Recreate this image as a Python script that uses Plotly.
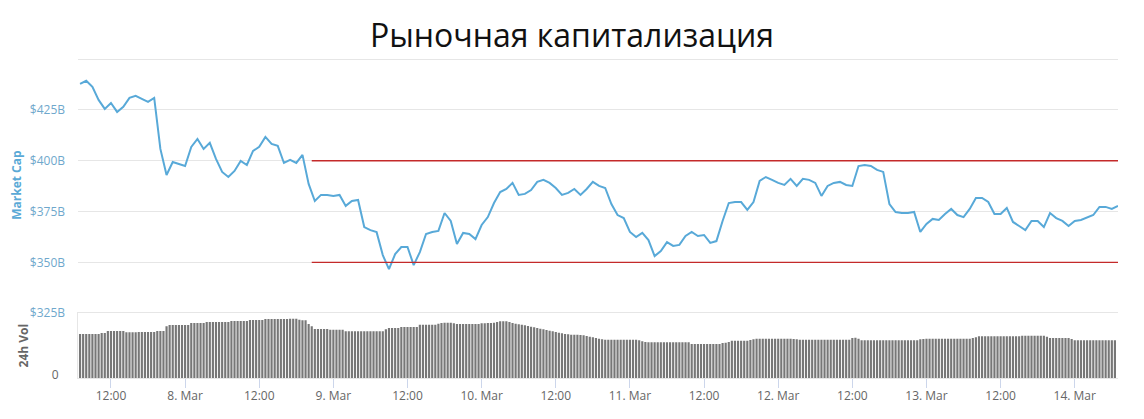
import plotly.graph_objects as go
import pandas as pd

# Рыночная капитализация, $B, почасовые значения с 7 Mar 07:00 по 14 Mar 07:00
market_cap = [
    437.8, 439.3, 436.3, 429.9, 425.5, 428.4, 424.0, 426.5, 430.9, 431.9, 430.4, 428.9,
    430.9, 405.8, 393.0, 399.4, 398.4, 397.4, 406.8, 410.7, 405.8, 408.8, 400.9, 394.5,
    392.0, 395.0, 399.9, 397.9, 404.8, 406.8, 411.7, 408.3, 407.3, 398.9, 400.4, 398.9,
    402.9, 388.6, 380.2, 383.2, 383.2, 382.7, 383.2, 377.8, 380.2, 380.7, 367.4, 365.9,
    364.9, 353.6, 346.7, 354.1, 357.6, 357.6, 348.7, 355.1, 364.0, 365.0, 365.5, 374.3,
    370.4, 359.1, 364.5, 364.0, 361.5, 368.4, 372.3, 379.2, 384.6, 386.1, 389.1, 383.2,
    383.7, 385.6, 389.6, 390.6, 389.1, 386.6, 383.2, 384.2, 386.1, 383.2, 386.1, 389.6,
    387.6, 386.6, 378.7, 373.3, 371.8, 365.0, 362.5, 364.5, 361.0, 353.1, 355.6, 360.0,
    358.1, 358.6, 363.0, 365.0, 363.0, 363.5, 359.6, 360.5, 370.4, 379.2, 379.7, 379.7,
    375.8, 379.7, 390.1, 392.0, 390.6, 389.1, 388.1, 391.1, 387.6, 391.1, 390.6, 389.1,
    382.7, 387.6, 389.1, 389.6, 388.1, 387.6, 397.4, 397.9, 397.4, 395.5, 394.5, 378.7,
    374.8, 374.3, 374.3, 374.8, 365.0, 368.9, 371.4, 370.9, 373.8, 376.3, 373.3, 372.3,
    376.3, 381.7, 381.7, 379.7, 373.8, 373.8, 376.8, 369.9, 367.9, 365.9, 370.4, 370.4,
    367.4, 374.3, 371.8, 370.4, 367.9, 370.4, 370.9, 372.3, 373.3, 377.3, 377.3, 376.3,
    377.8,
]

# Объём за 24ч, $B, каждые 30 минут
volume_24h = [
    13.2, 13.2, 13.2, 13.2, 13.2, 13.2, 13.2, 13.5, 13.5, 14.1, 14.1, 14.1,
    14.1, 14.1, 14.1, 13.7, 13.7, 13.7, 13.7, 13.8, 13.8, 13.8, 13.8, 13.8,
    13.8, 14.1, 14.1, 14.1, 15.5, 15.9, 15.9, 15.9, 15.9, 15.9, 15.9, 15.9,
    16.5, 16.5, 16.5, 16.5, 16.5, 16.8, 16.8, 16.8, 16.8, 16.8, 16.8, 16.8,
    16.8, 17.1, 17.1, 17.1, 17.1, 17.1, 17.1, 17.4, 17.4, 17.4, 17.4, 17.4,
    17.7, 17.7, 17.7, 17.7, 17.7, 17.7, 17.7, 17.7, 17.8, 17.8, 17.8, 17.5,
    17.3, 17.3, 16.2, 15.5, 14.7, 14.7, 14.7, 14.7, 14.7, 14.5, 14.5, 14.5,
    14.5, 14.5, 14.0, 14.0, 14.0, 14.0, 14.0, 14.0, 14.0, 14.0, 14.0, 14.0,
    14.0, 14.0, 14.0, 14.6, 15.0, 15.0, 15.0, 15.0, 15.3, 15.3, 15.3, 15.3,
    15.3, 15.3, 16.0, 16.0, 16.0, 16.0, 16.0, 16.0, 16.3, 16.5, 16.6, 16.6,
    16.6, 16.4, 16.2, 16.2, 16.2, 16.2, 16.2, 16.2, 16.2, 16.2, 16.4, 16.4,
    16.5, 16.5, 16.6, 16.8, 17.0, 17.0, 17.0, 16.8, 16.5, 16.3, 16.1, 16.0,
    15.8, 15.6, 15.4, 15.2, 15.0, 14.8, 14.6, 14.4, 14.2, 14.0, 13.8, 13.6,
    13.4, 13.2, 13.1, 13.0, 13.0, 13.0, 12.9, 12.8, 12.6, 12.4, 12.2, 12.0,
    11.8, 11.6, 11.5, 11.5, 11.5, 11.5, 11.5, 11.5, 11.5, 11.5, 11.5, 11.5,
    11.5, 11.3, 11.0, 10.8, 10.7, 10.7, 10.7, 10.7, 10.7, 10.7, 10.7, 10.7,
    10.7, 10.7, 10.7, 10.7, 10.7, 10.7, 10.2, 10.2, 10.2, 10.2, 10.2, 10.2,
    10.2, 10.2, 10.2, 10.2, 10.5, 10.6, 10.8, 11.2, 11.2, 11.2, 11.2, 11.2,
    11.2, 11.4, 11.6, 11.8, 11.8, 11.8, 11.8, 11.8, 11.8, 11.8, 11.8, 11.8,
    11.8, 11.8, 11.8, 11.7, 11.6, 11.5, 11.5, 11.5, 11.5, 11.5, 11.5, 11.5,
    11.5, 11.5, 11.5, 11.5, 11.5, 11.5, 11.5, 11.5, 11.5, 11.5, 12.0, 12.1,
    11.8, 11.3, 11.3, 11.3, 11.3, 11.3, 11.3, 11.3, 11.3, 11.3, 11.3, 11.3,
    11.3, 11.3, 11.3, 11.3, 11.3, 11.3, 11.3, 11.3, 11.6, 11.7, 11.8, 11.8,
    11.8, 11.8, 11.8, 11.8, 11.8, 11.8, 11.8, 11.8, 11.8, 11.8, 11.8, 11.8,
    11.8, 12.0, 12.2, 12.5, 12.5, 12.5, 12.5, 12.5, 12.5, 12.5, 12.5, 12.5,
    12.5, 12.5, 12.5, 12.5, 12.5, 12.7, 12.7, 12.7, 12.7, 12.7, 12.7, 12.7,
    12.7, 12.4, 12.0, 12.0, 12.0, 12.0, 12.0, 12.0, 12.0, 11.7, 11.3, 11.3,
    11.3, 11.3, 11.3, 11.3, 11.3, 11.3, 11.3, 11.3, 11.3, 11.3, 11.3, 11.3,
]

cap_times = pd.date_range("2018-03-07 07:00", periods=len(market_cap), freq="h")
vol_times = pd.date_range("2018-03-07 07:00", periods=len(volume_24h), freq="30min")

x_ticks = pd.date_range("2018-03-07 12:00", "2018-03-14 00:00", freq="12h")
x_labels = ["12:00" if t.hour == 12 else f"{t.day}. Mar" for t in x_ticks]

cap_ticks = [325, 350, 375, 400, 425, 450]
cap_labels = ["$325B", "$350B", "$375B", "$400B", "$425B", ""]

# коридор, нарисованный поверх графика
band_levels = [400, 350]
band_start = "2018-03-08 20:30"
band_end = "2018-03-14 09:00"

LINE = "#58a9d8"
RED = "#c42a2a"
GRID = "#e6e6e6"
FONT = "Open Sans, sans-serif"

fig = go.Figure()
fig.add_trace(go.Scatter(
    x=cap_times, y=market_cap, mode="lines",
    line=dict(color=LINE, width=2), name="Market Cap",
    xaxis="x", yaxis="y",
))
fig.add_trace(go.Bar(
    x=vol_times, y=volume_24h, marker=dict(color="#777777", line_width=0),
    name="24h Vol", xaxis="x", yaxis="y2",
))

for lvl in band_levels:
    fig.add_shape(type="line", xref="x", yref="y", x0=band_start, x1=band_end,
                  y0=lvl, y1=lvl, line=dict(color=RED, width=1.3))

# страница имеет отступ 8px, поэтому фигура чуть меньше окна
fig.update_layout(
    width=1128, height=403,
    margin=dict(l=70, r=18, t=49, b=33),
    paper_bgcolor="white", plot_bgcolor="white",
    showlegend=False, bargap=0.3,
    font=dict(family=FONT, color="#666666"),
    title=dict(text="Рыночная капитализация", x=0.5, xref="container",
               y=0.9305, yref="container", yanchor="middle",
               font=dict(size=32, color="#111111", family=FONT)),
    xaxis=dict(
        anchor="y2", range=["2018-03-07 06:40", "2018-03-14 07:00"],
        tickvals=x_ticks, ticktext=x_labels, showgrid=False,
        ticks="outside", ticklen=9, tickcolor="#ccd6eb",
        showline=True, linecolor="#e6e6e6", mirror=True,
        ticklabelstandoff=-2, automargin=False,
        tickfont=dict(size=12, color="#666666"),
    ),
    yaxis=dict(
        domain=[0.2016, 1], range=[325, 451],
        tickvals=cap_ticks, ticktext=cap_labels,
        showgrid=True, gridcolor=GRID, zeroline=False,
        ticklabelstandoff=12, automargin=False,
        tickfont=dict(size=12, color="#6fa8cc"),
        title=dict(text="Market Cap", standoff=10,
                   font=dict(size=12, color="#5aa9d6", weight="bold")),
    ),
    yaxis2=dict(
        domain=[0, 0.2016], range=[0, 19.4],
        tickvals=[0], ticktext=["0"], showgrid=False, zeroline=False,
        showline=True, linecolor="#e6e6e6",
        ticklabelstandoff=16, ticklabelshift=-3, automargin=False,
        tickfont=dict(size=12, color="#666666"),
        title=dict(text="24h Vol", standoff=20,
                   font=dict(size=12, color="#666666", weight="bold")),
    ),
)

fig.write_html("out.html")
